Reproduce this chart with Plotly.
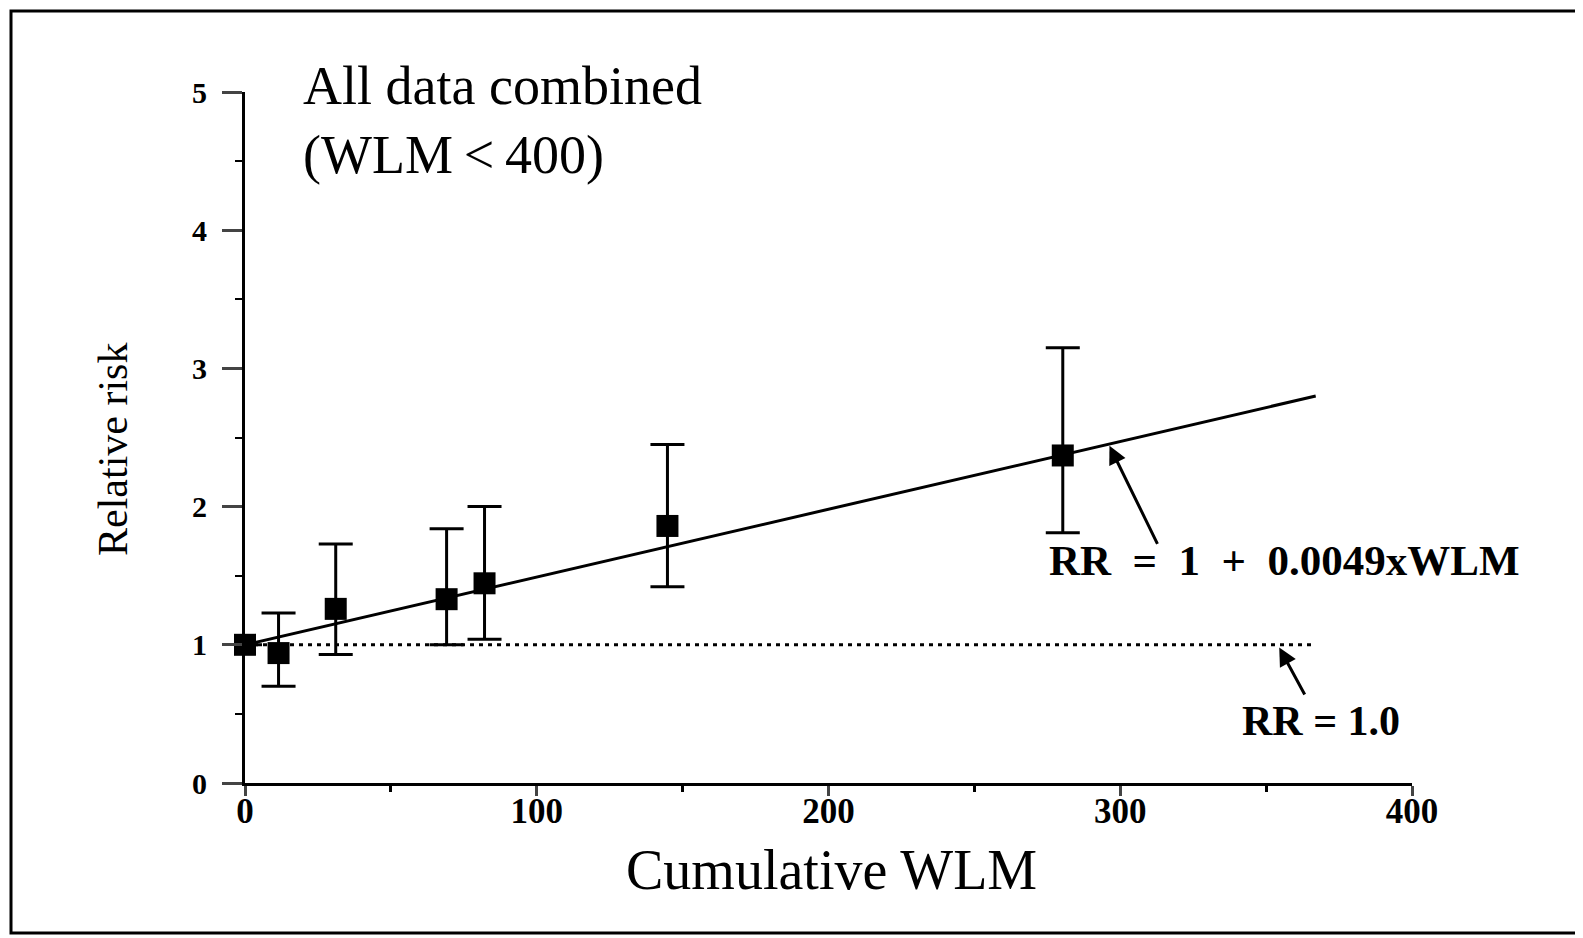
import plotly.graph_objects as go

# ---- data ----
wlm = [0, 11.5, 31.1, 69.1, 82.1, 144.8, 280.3]
rr = [1.0, 0.94, 1.26, 1.33, 1.445, 1.86, 2.37]
rr_low = [1.0, 0.70, 0.93, 1.00, 1.04, 1.42, 1.81]
rr_high = [1.0, 1.23, 1.73, 1.84, 2.00, 2.45, 3.15]

fit_x = [0, 367]
fit_y = [1.0, 2.80]
ref_x = [0, 367]
ref_y = [1.0, 1.0]

x_ticks = [0, 100, 200, 300, 400]
y_ticks = [0, 1, 2, 3, 4, 5]

err_plus = [h - v for h, v in zip(rr_high, rr)]
err_minus = [v - l for v, l in zip(rr, rr_low)]

FONT = "Liberation Serif"
W, H = 1583, 938
OFF = 8  # default page body margin
L, R, T, B = 245 - OFF, 1583 - 1412 + OFF, 92 - OFF, 938 - 783 + OFF

fig = go.Figure()

fig.add_trace(go.Scatter(x=ref_x, y=ref_y, mode="lines",
                         line=dict(color="black", width=3, dash="4px,5px"),
                         showlegend=False, hoverinfo="skip"))
fig.add_trace(go.Scatter(x=fit_x, y=fit_y, mode="lines",
                         line=dict(color="black", width=3),
                         showlegend=False, hoverinfo="skip"))
fig.add_trace(go.Scatter(
    x=wlm, y=rr, mode="markers",
    marker=dict(symbol="square", size=22, color="black"),
    error_y=dict(type="data", symmetric=False, array=err_plus, arrayminus=err_minus,
                 color="black", thickness=3, width=17),
    cliponaxis=False, showlegend=False))

# helpers: screen pixel -> paper coords
def px(xp):
    return (xp - OFF - L) / (W - L - R)

def py(yp):
    return (H - B - (yp - OFF)) / (H - T - B)

fig.add_shape(type="rect", xref="paper", yref="paper",
              x0=px(11), x1=px(1620), y0=py(933), y1=py(11),
              line=dict(color="black", width=3), layer="below")

fig.update_layout(
    width=W, height=H,
    margin=dict(l=L, r=R, t=T, b=B, autoexpand=False),
    paper_bgcolor="white", plot_bgcolor="white",
    font=dict(family=FONT, color="black"),
    xaxis=dict(range=[0, 400], tickvals=x_ticks, ticks="outside", ticklen=10, tickwidth=3,
               showline=True, linecolor="black", linewidth=3, showgrid=False, zeroline=False,
               automargin=False, ticklabelstandoff=-15,
               tickfont=dict(size=35, family=FONT, weight="bold"),
               minor=dict(dtick=50, ticks="outside", ticklen=6, tickwidth=3, tickcolor="black")),
    yaxis=dict(range=[0, 5], tickvals=y_ticks, ticks="outside", ticklen=20, tickwidth=3,
               showline=True, linecolor="black", linewidth=3, showgrid=False, zeroline=False,
               automargin=False, ticklabelstandoff=9,
               tickfont=dict(size=30, family=FONT, weight="bold"),
               minor=dict(dtick=0.5, ticks="outside", ticklen=7, tickwidth=2, tickcolor="black")),
)

# axis titles as annotations (placed as in the reference)
fig.add_annotation(x=px(831), y=py(870), xref="paper", yref="paper", text="Cumulative WLM",
                   showarrow=False, xanchor="center", yanchor="middle",
                   font=dict(size=56, family=FONT))
fig.add_annotation(x=px(113), y=py(450), xref="paper", yref="paper", text="Relative risk",
                   textangle=-90, showarrow=False, xanchor="center", yanchor="middle",
                   font=dict(size=42, family=FONT))

fig.add_annotation(x=px(301), y=py(86), xref="paper", yref="paper", text="All data combined",
                   showarrow=False, xanchor="left", yanchor="middle",
                   font=dict(size=54, family=FONT))
fig.add_annotation(x=px(301), y=py(155), xref="paper", yref="paper", text="(WLM\u2009<\u2009400)",
                   showarrow=False, xanchor="left", yanchor="middle",
                   font=dict(size=54, family=FONT))

fig.add_annotation(x=356.3, y=1.61, xref="x", yref="y", text="RR  =  1  +  0.0049xWLM",
                   showarrow=False, xanchor="center", yanchor="middle",
                   font=dict(size=43, family=FONT, weight="bold"))
fig.add_annotation(x=296.3, y=2.44, xref="x", yref="y", ax=313, ay=1.72,
                   axref="x", ayref="y", text="", showarrow=True,
                   arrowhead=2, arrowsize=1.2, arrowwidth=3, arrowcolor="black")

fig.add_annotation(x=368.7, y=0.45, xref="x", yref="y", text="RR = 1.0",
                   showarrow=False, xanchor="center", yanchor="middle",
                   font=dict(size=42, family=FONT, weight="bold"))
fig.add_annotation(x=354.5, y=0.98, xref="x", yref="y", ax=363.5, ay=0.63,
                   axref="x", ayref="y", text="", showarrow=True,
                   arrowhead=2, arrowsize=1.2, arrowwidth=3, arrowcolor="black")

fig.write_html("out.html")
